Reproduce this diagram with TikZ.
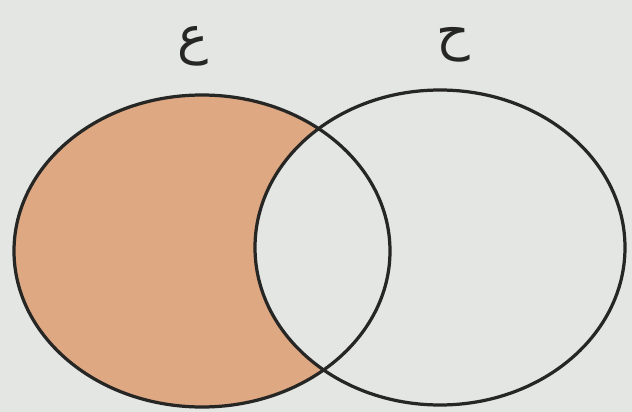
\documentclass[tikz,border=0pt]{standalone}
\usepackage{fontspec}
\newfontfamily\arabicfont[Script=Arabic]{DejaVu Sans}
\TeXXeTstate=1
\definecolor{paper}{HTML}{E4E6E3}
\definecolor{sand}{HTML}{DEA883}
\definecolor{ink}{HTML}{262624}
\usetikzlibrary{positioning}

\begin{document}
\begin{tikzpicture}[x=0.05cm, y=-0.05cm,
  setline/.style={draw=ink, line width=4.6pt},
  setlabel/.style={font=\arabicfont\fontsize{74}{74}\selectfont, text=ink, inner sep=0pt},
]
\fill[paper] (0,0) rectangle (632,412);
\useasboundingbox (0,0) rectangle (632,412);

% shaded part: left set without the common part
\fill[sand] (202,251) ellipse [x radius=188, y radius=156];
\begin{scope}
  \clip (202,251) ellipse [x radius=188, y radius=156];
  \fill[paper] (440,247.5) ellipse [x radius=185, y radius=157.5];
\end{scope}

\draw[setline] (202,251) ellipse [x radius=188, y radius=156];
\draw[setline] (440,247.5) ellipse [x radius=185, y radius=157.5];

\node[setlabel] (labA) at (193,46) {\beginR ع\endR};
\node[setlabel] (labB) at (453,45) {\beginR ح\endR};
\end{tikzpicture}
\end{document}
